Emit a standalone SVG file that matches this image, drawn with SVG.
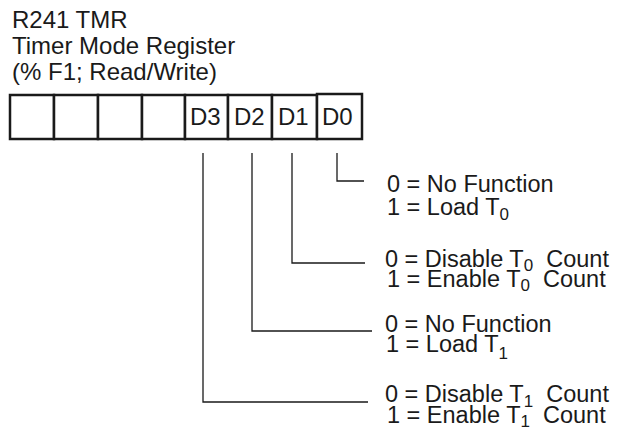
<svg xmlns="http://www.w3.org/2000/svg" width="617" height="430" viewBox="0 0 617 430">
<style>
.t{font-family:"Liberation Sans",Arial,sans-serif;fill:#1a1a1a}
.title{font-size:24px}
.lab{font-size:23.5px}
.bit{font-size:24px}
.sub{font-size:17px}
.cell{fill:#fff;stroke:#1a1a1a;stroke-width:2.5}
.conn{fill:none;stroke:#1a1a1a;stroke-width:1.3}
</style>
<rect width="617" height="430" fill="#fff"/>
<g id="title" class="t title">
<text x="12" y="28">R241 TMR</text>
<text x="12" y="54">Timer Mode Register</text>
<text x="12" y="80">(% F1; Read/Write)</text>
</g>
<g id="register">
<rect class="cell" x="10" y="95" width="44" height="44"/>
<rect class="cell" x="54" y="95" width="44" height="44"/>
<rect class="cell" x="98" y="95" width="44" height="44"/>
<rect class="cell" x="142" y="95" width="43" height="44"/>
<g id="d3"><rect class="cell" x="185" y="95" width="43" height="44"/><text class="t bit" x="190" y="125">D3</text></g>
<g id="d2"><rect class="cell" x="228" y="95" width="44" height="44"/><text class="t bit" x="234" y="125">D2</text></g>
<g id="d1"><rect class="cell" x="272" y="95" width="45" height="44"/><text class="t bit" x="278" y="125">D1</text></g>
<g id="d0"><rect class="cell" x="317" y="94" width="45" height="45"/><text class="t bit" x="322" y="125">D0</text></g>
</g>
<g id="connectors" class="conn">
<path d="M337 153 V181 H364"/>
<path d="M292 153 V263 H365"/>
<path d="M252 153 V331 H372"/>
<path d="M203 153 V402 H368"/>
</g>
<g id="desc-d0" class="t lab">
<text x="387" y="192">0 = No Function</text>
<text x="387" y="215">1 = Load T<tspan class="sub" dy="5">0</tspan></text>
</g>
<g id="desc-d1" class="t lab">
<text x="385" y="267" xml:space="preserve">0 = Disable T<tspan class="sub" dy="4">0</tspan><tspan dy="-4">  Count</tspan></text>
<text x="387" y="287" xml:space="preserve">1 = Enable T<tspan class="sub" dy="4">0</tspan><tspan dy="-4">  Count</tspan></text>
</g>
<g id="desc-d2" class="t lab">
<text x="385" y="332">0 = No Function</text>
<text x="386" y="352">1 = Load T<tspan class="sub" dy="7">1</tspan></text>
</g>
<g id="desc-d3" class="t lab">
<text x="385" y="402" xml:space="preserve">0 = Disable T<tspan class="sub" dy="5">1</tspan><tspan dy="-5">  Count</tspan></text>
<text x="387" y="423" xml:space="preserve">1 = Enable T<tspan class="sub" dy="4">1</tspan><tspan dy="-4">  Count</tspan></text>
</g>
</svg>
